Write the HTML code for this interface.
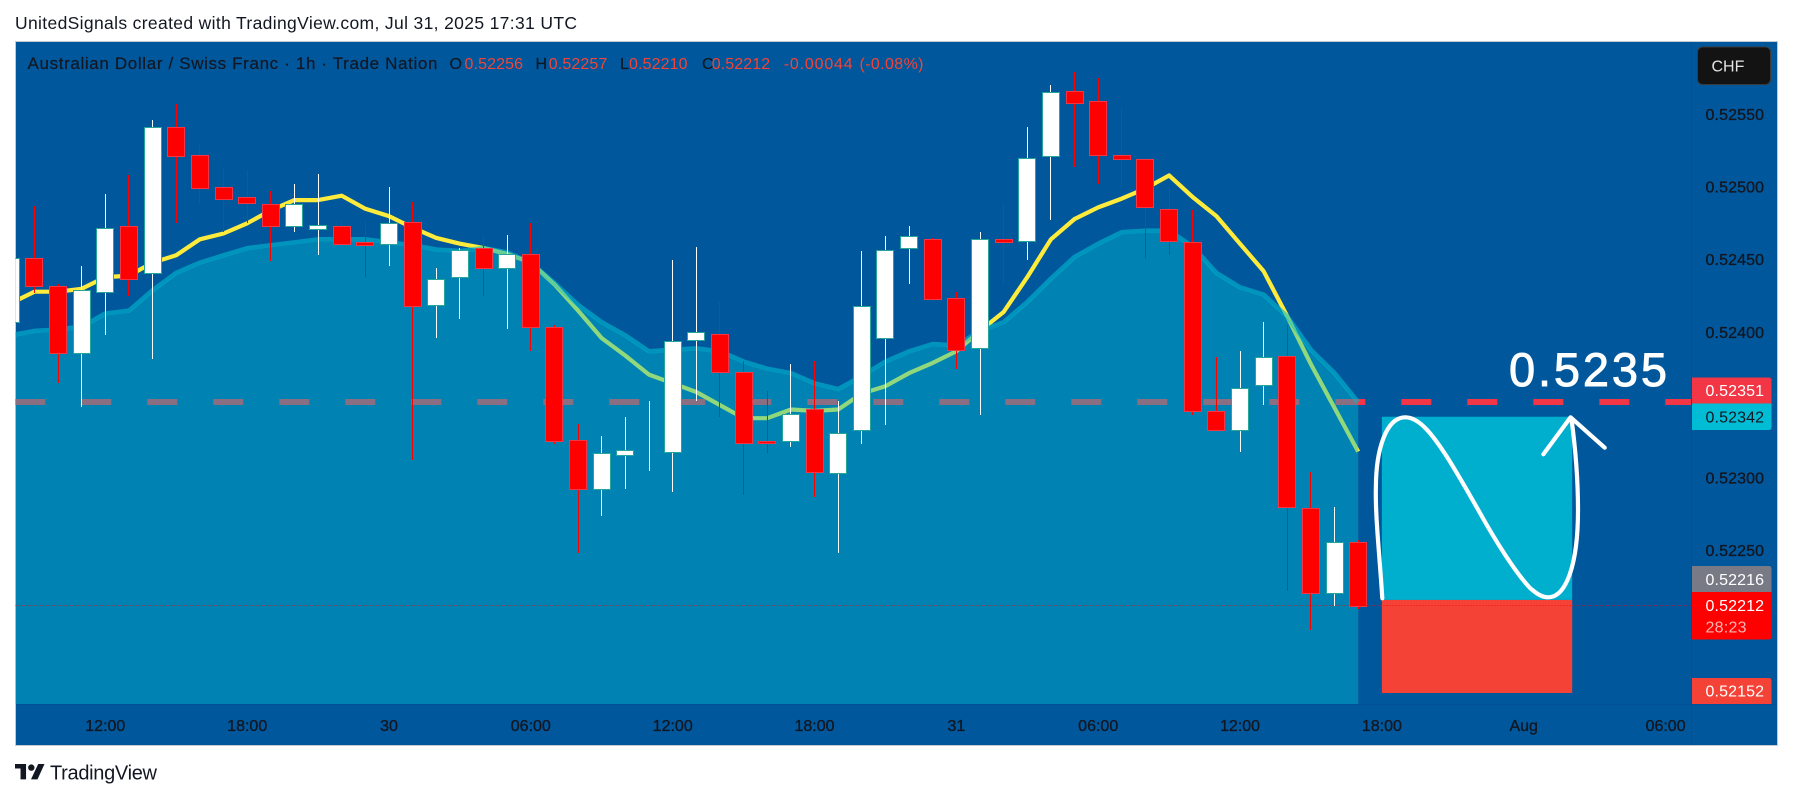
<!DOCTYPE html>
<html lang="en">
<head>
<meta charset="utf-8">
<title>AUD/CHF 1h chart</title>
<style>
html,body{margin:0;padding:0;background:#fff;width:1793px;height:799px;overflow:hidden}
svg{display:block;font-family:"Liberation Sans","DejaVu Sans",sans-serif}
</style>
</head>
<body>
<svg id="chart" width="1793" height="799" viewBox="0 0 1793 799" xmlns="http://www.w3.org/2000/svg">
  <defs>
    <clipPath id="pane-clip"><rect x="15.5" y="41.5" width="1676" height="662.5"/></clipPath>
  </defs>
  <rect x="0" y="0" width="1793" height="799" fill="#ffffff"/>
  <text x="15" y="29" font-size="17.5" fill="#131722" textLength="562">UnitedSignals created with TradingView.com, Jul 31, 2025 17:31 UTC</text>
  <rect x="15.5" y="41.5" width="1762" height="704" fill="#01579B" stroke="#c3cad2" stroke-width="1"/>

  <g id="pane" clip-path="url(#pane-clip)"></g>

  <g>
    <rect id="pos-profit" fill="#00AECD"/>
    <rect id="pos-loss" fill="#F44336"/>
  </g>
  <line id="last-price-line" x1="15.5" x2="1691.5" stroke="#ff0000" stroke-width="1" stroke-dasharray="1 2" shape-rendering="crispEdges" opacity="0.8"/>
  <path fill="none" stroke="#ffffff" stroke-width="4.2" stroke-linecap="round" d="M1382.3,598.3 C1380,560 1375,515 1375.9,487 C1376,450 1386,417.3 1405.4,417.3 C1420,417.3 1434,437 1445.8,455 C1458,474 1468,492 1480,513 C1495,540 1515,572 1530,588 C1537,594 1542,597.3 1548,597.3 C1566,597.5 1578,565 1578,510 C1578,475 1575,445 1571.4,418.3"/>
  <path fill="none" stroke="#ffffff" stroke-width="4.2" stroke-linecap="round" stroke-linejoin="round" d="M1543.4,454.3 L1570.6,417.3 L1604.7,447.7"/>
  <text x="1509" y="386" font-size="47" fill="#ffffff" stroke="#ffffff" stroke-width="0.9" textLength="158">0.5235</text>

  <g font-size="16">
    <text x="27.5" y="69" font-size="17" fill="#131722" stroke="#131722" stroke-width="0.2" textLength="410">Australian Dollar / Swiss Franc · 1h · Trade Nation</text>
    <text x="449.5" y="69" fill="#131722" stroke="#131722" stroke-width="0.2">O</text>
    <text x="464.5" y="69" fill="#F44336" textLength="58.5">0.52256</text>
    <text x="535.5" y="69" fill="#131722" stroke="#131722" stroke-width="0.2">H</text>
    <text x="548.8" y="69" fill="#F44336" textLength="58.5">0.52257</text>
    <text x="620" y="69" fill="#131722" stroke="#131722" stroke-width="0.2">L</text>
    <text x="629" y="69" fill="#F44336" textLength="58.5">0.52210</text>
    <text x="702" y="69" fill="#131722" stroke="#131722" stroke-width="0.2">C</text>
    <text x="711.7" y="69" fill="#F44336" textLength="58.5">0.52212</text>
    <text x="783.7" y="69" fill="#F44336" textLength="69">-0.00044</text>
    <text x="859.5" y="69" fill="#F44336" textLength="64">(-0.08%)</text>
  </g>

  <line x1="1691.5" x2="1691.5" y1="42" y2="745" stroke="#015093" stroke-width="1"/>
  <line x1="16" x2="1777" y1="704.5" y2="704.5" stroke="#015093" stroke-width="1"/>
  <g id="price-axis" font-size="16" fill="#131722" stroke="#131722" stroke-width="0.35"></g>
  <g id="time-axis" font-size="16" fill="#131722" stroke="#131722" stroke-width="0.35" text-anchor="middle"></g>

  <g>
    <rect x="1697.5" y="47" width="73" height="37.5" rx="5" fill="#131313" stroke="#3a3a3a" stroke-width="1"/>
    <text x="1711.5" y="71.5" font-size="16" fill="#e4e4e4">CHF</text>
  </g>

  <g font-size="16">
    <path fill="#F23645" d="M1692,377.5 H1769 a2.5,2.5 0 0 1 2.5,2.5 V403.5 H1692 Z"/>
    <text x="1705.5" y="396" fill="#ffffff" textLength="58.5">0.52351</text>
    <path fill="#00BCD4" d="M1692,403.5 H1771.5 V427.5 a2.5,2.5 0 0 1 -2.5,2.5 H1692 Z"/>
    <text x="1705.5" y="422.5" fill="#131722" textLength="58.5">0.52342</text>
    <path fill="#787B86" d="M1692,566 H1769 a2.5,2.5 0 0 1 2.5,2.5 V592 H1692 Z"/>
    <text x="1705.5" y="585" fill="#ffffff" textLength="58.5">0.52216</text>
    <path fill="#ff0000" d="M1692,592 H1771.5 V637 a2.5,2.5 0 0 1 -2.5,2.5 H1692 Z"/>
    <text x="1705.5" y="611" fill="#ffffff" textLength="58.5">0.52212</text>
    <text x="1705.5" y="632.5" fill="#ffb3b3" textLength="41">28:23</text>
    <path fill="#F44336" d="M1692,678 H1769 a2.5,2.5 0 0 1 2.5,2.5 V704 H1692 Z"/>
    <text x="1705.5" y="696.5" fill="#ffffff" textLength="58.5">0.52152</text>
  </g>

  <g fill="#131722">
    <path transform="translate(15,764) scale(0.79,0.64)" d="M14 0H0v7h7v17h7V0z"/>
    <circle cx="31.3" cy="767.6" r="3.2"/>
    <path d="M44.5,764 L37.5,779.4 H31 L38.2,764 Z"/>
    <text x="50" y="779.5" font-size="20" textLength="107">TradingView</text>
  </g>
</svg>
<script>
var opens = [0.52407,0.52451,0.52432,0.52386,0.52428,0.52473,0.52441,0.52541,0.52522,0.52500,0.52493,0.52488,0.52473,0.52471,0.52473,0.52462,0.52461,0.52476,0.52419,0.52438,0.52458,0.52444,0.52454,0.52404,0.52326,0.52292,0.52316,0.52318,0.52318,0.52395,0.52399,0.52373,0.52325,0.52325,0.52347,0.52303,0.52333,0.52396,0.52458,0.52464,0.52424,0.52389,0.52464,0.52463,0.52521,0.52566,0.52559,0.52522,0.52519,0.52485,0.52462,0.52346,0.52333,0.52364,0.52384,0.52279,0.52221,0.52256];
var highs = [0.52455,0.52487,0.52433,0.52446,0.52495,0.52508,0.52546,0.52557,0.52529,0.52513,0.52512,0.52497,0.52502,0.52509,0.52476,0.52476,0.52500,0.52490,0.52444,0.52458,0.52466,0.52467,0.52475,0.52405,0.52337,0.52329,0.52342,0.52353,0.52450,0.52459,0.52421,0.52380,0.52360,0.52378,0.52380,0.52353,0.52456,0.52466,0.52473,0.52465,0.52428,0.52469,0.52488,0.52541,0.52570,0.52579,0.52575,0.52555,0.52520,0.52500,0.52484,0.52383,0.52387,0.52407,0.52405,0.52304,0.52280,0.52257];
var lows = [0.52400,0.52427,0.52365,0.52349,0.52398,0.52425,0.52382,0.52475,0.52488,0.52469,0.52475,0.52449,0.52469,0.52453,0.52460,0.52438,0.52446,0.52312,0.52396,0.52409,0.52425,0.52402,0.52387,0.52323,0.52248,0.52274,0.52292,0.52305,0.52290,0.52353,0.52342,0.52288,0.52317,0.52321,0.52287,0.52248,0.52323,0.52336,0.52433,0.52423,0.52375,0.52343,0.52433,0.52450,0.52477,0.52514,0.52502,0.52499,0.52451,0.52453,0.52343,0.52333,0.52318,0.52350,0.52222,0.52195,0.52212,0.52210];
var closes = [0.52451,0.52432,0.52386,0.52429,0.52472,0.52437,0.52541,0.52521,0.52499,0.52492,0.52489,0.52473,0.52488,0.52474,0.52461,0.52460,0.52475,0.52418,0.52437,0.52457,0.52444,0.52454,0.52404,0.52325,0.52292,0.52317,0.52319,0.52318,0.52394,0.52400,0.52373,0.52324,0.52324,0.52344,0.52304,0.52331,0.52418,0.52457,0.52466,0.52423,0.52388,0.52464,0.52462,0.52520,0.52565,0.52558,0.52522,0.52519,0.52486,0.52463,0.52346,0.52333,0.52362,0.52383,0.52280,0.52221,0.52256,0.52212];
var fastMA = [0.52420,0.52428,0.52428,0.52430,0.52438,0.52439,0.52448,0.52453,0.52464,0.52468,0.52475,0.52484,0.52491,0.52491,0.52494,0.52485,0.52480,0.52472,0.52465,0.52461,0.52458,0.52454,0.52448,0.52433,0.52415,0.52396,0.52384,0.52371,0.52365,0.52359,0.52350,0.52341,0.52341,0.52347,0.52346,0.52347,0.52358,0.52363,0.52372,0.52379,0.52387,0.52401,0.52414,0.52438,0.52464,0.52478,0.52486,0.52492,0.52499,0.52508,0.52493,0.52480,0.52461,0.52442,0.52411,0.52378,0.52348,0.52318];
var cloudTop = [0.52398,0.52401,0.52402,0.52404,0.52413,0.52415,0.52429,0.52441,0.52448,0.52453,0.52458,0.52460,0.52462,0.52464,0.52464,0.52464,0.52462,0.52460,0.52457,0.52456,0.52458,0.52455,0.52448,0.52434,0.52419,0.52407,0.52398,0.52387,0.52388,0.52389,0.52387,0.52380,0.52375,0.52372,0.52365,0.52361,0.52370,0.52380,0.52387,0.52392,0.52391,0.52401,0.52407,0.52421,0.52437,0.52452,0.52461,0.52469,0.52470,0.52470,0.52459,0.52441,0.52431,0.52426,0.52411,0.52388,0.52372,0.52352];
var priceTicks = [0.5255,0.525,0.5245,0.524,0.523,0.5225];
var timeTickBars = [4,10,16,22,28,34,40,46,52,58,64,70];
var timeTickLabels = ['12:00','18:00','30','06:00','12:00','18:00','31','06:00','12:00','18:00','Aug','06:00'];
var levelPrice = 0.52352;
var lastPrice = 0.52212;
var entryPrice = 0.52216;
var targetPrice = 0.52342;
var stopPrice = 0.52152;
var positionStartBar = 58;
var positionEndBar = 66.05;
</script>
<script>
(function(){
var NS = 'http://www.w3.org/2000/svg';
function xOf(i){ return 10.76 + 23.64 * i; }
function yOf(p){ return 114.3 + (0.5255 - p) * 145400; }
function make(tag, attrs, parent){
  var el = document.createElementNS(NS, tag);
  for (var k in attrs) el.setAttribute(k, attrs[k]);
  parent.appendChild(el);
  return el;
}
var pane = document.getElementById('pane');
var count = closes.length;
var paneBottom = 704;

var level = make('line', {x1:15.3, x2:1691.5, y1:Math.round(yOf(levelPrice)), y2:Math.round(yOf(levelPrice)), stroke:'#F23645', 'stroke-width':6, 'stroke-dasharray':'30 36'}, pane);



var maPts = fastMA.map(function(v,i){ return xOf(i).toFixed(1)+','+yOf(v).toFixed(1); }).join(' ');
var ma = make('polyline', {points:maPts, fill:'none', stroke:'#FFEB3B', 'stroke-width':4.2, 'stroke-linejoin':'round'}, pane);



var fillPts = cloudTop.map(function(v,i){ return xOf(i).toFixed(1)+','+(yOf(v)+2).toFixed(1); });
fillPts.push(xOf(count-1).toFixed(1)+','+paneBottom);
fillPts.push(xOf(0).toFixed(1)+','+paneBottom);
var area = make('polygon', {points:fillPts.join(' '), fill:'rgba(0,188,212,0.43)'}, pane);



var topPts = cloudTop.map(function(v,i){ return xOf(i).toFixed(1)+','+yOf(v).toFixed(1); }).join(' ');
var topLine = make('polyline', {points:topPts, fill:'none', stroke:'rgba(0,188,212,0.6)', 'stroke-width':4.5, 'stroke-linejoin':'round'}, pane);



for (var i = 0; i < count; i++) {
  var up = closes[i] >= opens[i];
  var cx = xOf(i);
  var g = make('g', {}, pane);
  
  
  var wy1 = Math.round(yOf(highs[i]));
  var wy2 = Math.round(yOf(lows[i]));
  var wick = make('rect', {x:Math.round(cx-0.5), y:wy1, width:1, height:Math.max(1,wy2-wy1), fill:up?'#ffffff':'#ff0000', 'shape-rendering':'crispEdges'}, g);
  
  
  var bodyTop = Math.round(yOf(Math.max(opens[i],closes[i])));
  var bodyBottom = Math.round(yOf(Math.min(opens[i],closes[i])));
  var bx = Math.round(cx-9);
  var body = make('rect', {x:bx+0.5, y:bodyTop+0.5, width:17, height:Math.max(0,bodyBottom-bodyTop), fill:up?'#ffffff':'#ff0000', stroke:up?'#26A69A':'#F23645', 'stroke-width':1, 'shape-rendering':'crispEdges'}, g);
  
  
}

var x1 = xOf(positionStartBar), x2 = xOf(positionEndBar);
var profit = document.getElementById('pos-profit');
profit.setAttribute('x', x1); profit.setAttribute('width', x2-x1);
profit.setAttribute('y', yOf(targetPrice)); profit.setAttribute('height', yOf(entryPrice)-yOf(targetPrice));
var loss = document.getElementById('pos-loss');
loss.setAttribute('x', x1); loss.setAttribute('width', x2-x1);
loss.setAttribute('y', yOf(entryPrice)); loss.setAttribute('height', yOf(stopPrice)-yOf(entryPrice));
var lastLine = document.getElementById('last-price-line');
lastLine.setAttribute('y1', Math.floor(yOf(lastPrice))+0.5);
lastLine.setAttribute('y2', Math.floor(yOf(lastPrice))+0.5);

var priceAxis = document.getElementById('price-axis');
priceTicks.forEach(function(p){
  var t = make('text', {x:1705.5, y:(yOf(p)+5.5).toFixed(1), textLength:58.5}, priceAxis);
  
  
  t.textContent = p.toFixed(5);
});
var timeAxis = document.getElementById('time-axis');
timeTickBars.forEach(function(b,i){
  var t = make('text', {x:xOf(b).toFixed(1), y:731}, timeAxis);
  
  
  t.textContent = timeTickLabels[i];
});
})();
</script>
</body>
</html>
